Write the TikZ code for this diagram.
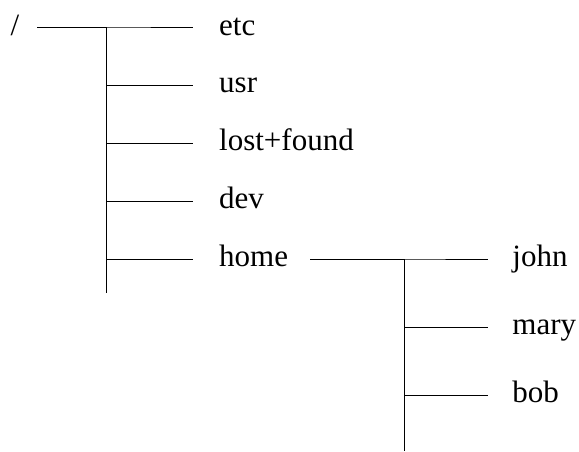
\documentclass[tikz,border=0pt]{standalone}
\usepackage{fontspec}
\setmainfont{Liberation Serif}
\usetikzlibrary{trees}
\begin{document}
\begin{tikzpicture}[
    x=1pt, y=1pt,
    dir/.style={font=\fontsize{31}{36}\selectfont, inner sep=0pt, text height=21pt, text depth=6.8pt},
    every child node/.style={dir, anchor=west},
    edge from parent/.style={draw, line width=1pt},
    level 1/.style={grow via three points={one child at (204,0) and two children at (204,0) and (204,-57.75)},
        edge from parent path={(\tikzparentnode.east) -- (\tikzparentnode.east -| trunk1) |- (\tikzchildnode.west)},
        shorten <=17.7pt, shorten >=26pt},
    level 2/.style={grow via three points={one child at (258.6,0) and two children at (258.6,0) and (258.6,-68)},
        edge from parent path={(\tikzparentnode.east) -- (\tikzparentnode.east -| trunk2) |- (\tikzchildnode.west)},
        shorten <=22pt, shorten >=24pt}
]
\useasboundingbox (0,0) rectangle (579,451);

% trunk x positions, also where the trunks stop
\coordinate (trunk1) at (106,158);
\coordinate (trunk2) at (404,0);

\node[dir] (root) at (15,423) {/}
    child { node (etc) {etc} }
    child { node (usr) {usr} }
    child { node (lost) {lost+found} }
    child { node (dev) {dev} }
    child {
        node (home) {home}
        child { node (john) {john} }
        child { node (mary) {mary} }
        child { node (bob) {bob} }
    };

% trunks run on below the last entry
\draw[line width=1pt] (home.west -| trunk1) -- (trunk1);
\draw[line width=1pt] (bob.west -| trunk2) -- (trunk2);
\end{tikzpicture}
\end{document}
